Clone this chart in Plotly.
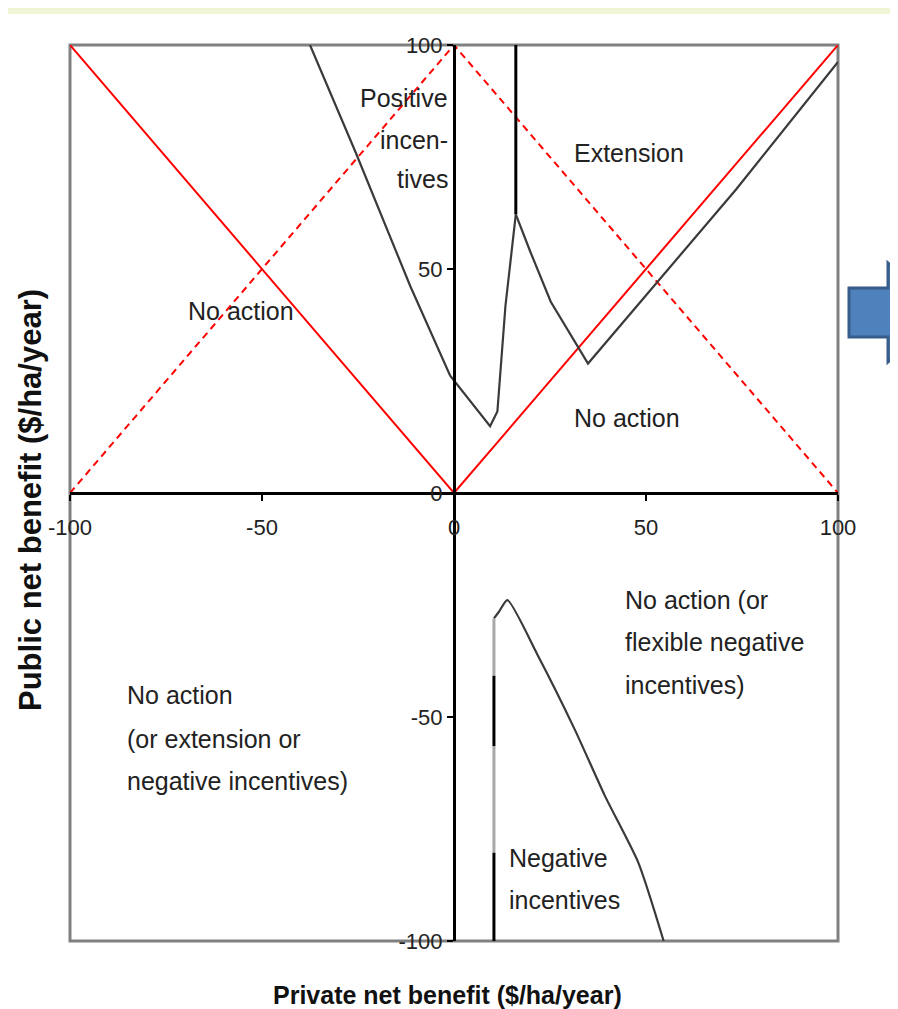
import plotly.graph_objects as go

# ---------------- data ----------------
tick_vals = [-100, -50, 0, 50, 100]
tick_text = ["-100", "-50", "0", "50", "100"]

# red reference lines (solid and dashed diagonals)
solid_x = [-100, 0, 100]
solid_y = [100, 0, 100]
dash_x = [-100, 0, 100]
dash_y = [0, 100, 0]

# upper curve (left branch down to minimum, then up to peak)
upper_left_x = [-37.5, -25.6, -11.4, -1.0, 9.4, 11.3, 13.4, 16.1]
upper_left_y = [100, 76.0, 46.2, 26.2, 14.9, 18.2, 41.8, 62.2]
# vertical line above the peak
upper_vert_x = [16.1, 16.1]
upper_vert_y = [62.2, 100]
# right branch from peak
upper_right_x = [16.1, 19.9, 25.2, 31.5, 34.9, 73.5, 100]
upper_right_y = [62.2, 53.8, 42.7, 33.8, 28.9, 67.8, 96.2]

# lower curve
lower_x = [10.4, 11.7, 13.9, 21.8, 31.4, 39.3, 48.0, 54.6]
lower_y = [-28.0, -26.5, -23.9, -36.2, -52.7, -67.6, -82.5, -100]
lower_black_x = [10.4, 10.4, None, 10.4, 10.4]
lower_black_y = [-100, -80.3, None, -56.5, -40.8]
lower_grey_x = [10.4, 10.4, None, 10.4, 10.4]
lower_grey_y = [-80.3, -56.5, None, -40.8, -28.0]

# region labels: (lines, x, list of y, anchor)
labels = [
    (["Positive", "incen-", "tives"], -1.0, [88.2, 78.9, 70.0], "right"),
    (["Extension"], 45.7, [76.0], "center"),
    (["No action"], -55.6, [40.7], "center"),
    (["No action"], 45.1, [16.7], "center"),
    (["No action (or", "flexible negative", "incentives)"], 44.1, [-23.8, -33.2, -42.8], "left"),
    (["No action", "(or extension or", "negative incentives)"], -85.8, [-45.1, -54.9, -64.3], "left"),
    (["Negative", "incentives"], 13.9, [-81.4, -90.8], "left"),
]

x_title = "Private net benefit ($/ha/year)"
y_title = "Public net benefit ($/ha/year)"

# ---------------- layout constants ----------------
OFF = 8                      # page offset of the figure inside the browser
W, H = 898 - OFF, 1009 - OFF
ML, MT = 70 - OFF, 45 - OFF  # plot area starts at screen (70, 45)
PW, PH = 768, 896
MR, MB = W - ML - PW, H - MT - PH

SANS = "Liberation Sans, Arial, sans-serif"


def px2paper(px, py):
    """screen pixel of the reference -> paper coordinates"""
    return (px - OFF - ML) / PW, 1 - (py - OFF - MT) / PH


fig = go.Figure()

curve_color = "#3a3a3a"
fig.add_trace(go.Scatter(x=solid_x, y=solid_y, mode="lines",
                         line=dict(color="#ff0000", width=2), hoverinfo="skip"))
fig.add_trace(go.Scatter(x=dash_x, y=dash_y, mode="lines",
                         line=dict(color="#ff0000", width=2, dash="7px,5px"), hoverinfo="skip"))
fig.add_trace(go.Scatter(x=upper_left_x, y=upper_left_y, mode="lines",
                         line=dict(color=curve_color, width=2.2), hoverinfo="skip"))
fig.add_trace(go.Scatter(x=upper_vert_x, y=upper_vert_y, mode="lines",
                         line=dict(color="#000000", width=3), hoverinfo="skip"))
fig.add_trace(go.Scatter(x=upper_right_x, y=upper_right_y, mode="lines",
                         line=dict(color=curve_color, width=2.2), hoverinfo="skip"))
fig.add_trace(go.Scatter(x=lower_x, y=lower_y, mode="lines", line_shape="spline",
                         line=dict(color=curve_color, width=2.2, smoothing=0.6), hoverinfo="skip"))
fig.add_trace(go.Scatter(x=lower_grey_x, y=lower_grey_y, mode="lines",
                         line=dict(color="#a8a8a8", width=3), hoverinfo="skip"))
fig.add_trace(go.Scatter(x=lower_black_x, y=lower_black_y, mode="lines",
                         line=dict(color="#000000", width=3), hoverinfo="skip"))

annotations = []
for lines, x, ys, anchor in labels:
    for line, y in zip(lines, ys):
        annotations.append(dict(x=x, y=y, xref="x", yref="y", text=line, showarrow=False,
                                xanchor=anchor, yanchor="middle",
                                font=dict(family=SANS, size=25, color="#222222")))

annotations.append(dict(x=px2paper(447, 0)[0], y=px2paper(0, 995)[1], xref="paper", yref="paper",
                        text="<b>" + x_title + "</b>", showarrow=False,
                        xanchor="center", yanchor="middle",
                        font=dict(family=SANS, size=25, color="#111111")))
annotations.append(dict(x=px2paper(30, 0)[0], y=px2paper(0, 500)[1], xref="paper", yref="paper",
                        text="<b>" + y_title + "</b>", showarrow=False, textangle=-90,
                        xanchor="center", yanchor="middle",
                        font=dict(family=SANS, size=31, color="#111111")))

# decorations: frame, top strip, blue arrow
shapes = [
    dict(type="rect", xref="paper", yref="paper", x0=0, x1=1, y0=0, y1=1,
         line=dict(color="#808080", width=3), layer="below"),
]
sx0, sy0 = px2paper(0, OFF)
sx1, sy1 = px2paper(898, OFF + 6)
shapes.append(dict(type="rect", xref="paper", yref="paper", x0=sx0, x1=sx1, y0=sy1, y1=sy0 + 0.01,
                   line=dict(width=0), fillcolor="#f0f5d6", layer="below"))
arrow_px = [(849, 288), (888, 288), (888, 263), (945, 312), (888, 362), (888, 337), (849, 337)]
pts = [px2paper(a, b) for a, b in arrow_px]
path = "M " + " L ".join(f"{p[0]:.5f},{p[1]:.5f}" for p in pts) + " Z"
shapes.append(dict(type="path", xref="paper", yref="paper", path=path,
                   fillcolor="#4f81bd", line=dict(color="#385d8a", width=3)))

fig.update_layout(
    width=W, height=H,
    margin=dict(l=ML, r=MR, t=MT, b=MB),
    paper_bgcolor="white", plot_bgcolor="white",
    showlegend=False,
    annotations=annotations,
    shapes=shapes,
    xaxis=dict(range=[-100, 100], anchor="free", position=0.5,
               showgrid=False, zeroline=False, showline=True, linecolor="#000000", linewidth=3,
               ticks="outside", ticklen=6, tickwidth=2, tickcolor="#000000",
               tickvals=tick_vals, ticktext=tick_text, ticklabelstandoff=8,
               tickfont=dict(family=SANS, size=22, color="#222222")),
    yaxis=dict(range=[-100, 100], anchor="free", position=0.5,
               showgrid=False, zeroline=False, showline=True, linecolor="#000000", linewidth=3,
               ticks="outside", ticklen=6, tickwidth=2, tickcolor="#000000",
               tickvals=tick_vals, ticktext=tick_text,
               tickfont=dict(family=SANS, size=22, color="#222222")),
)

fig.write_html("out.html")
